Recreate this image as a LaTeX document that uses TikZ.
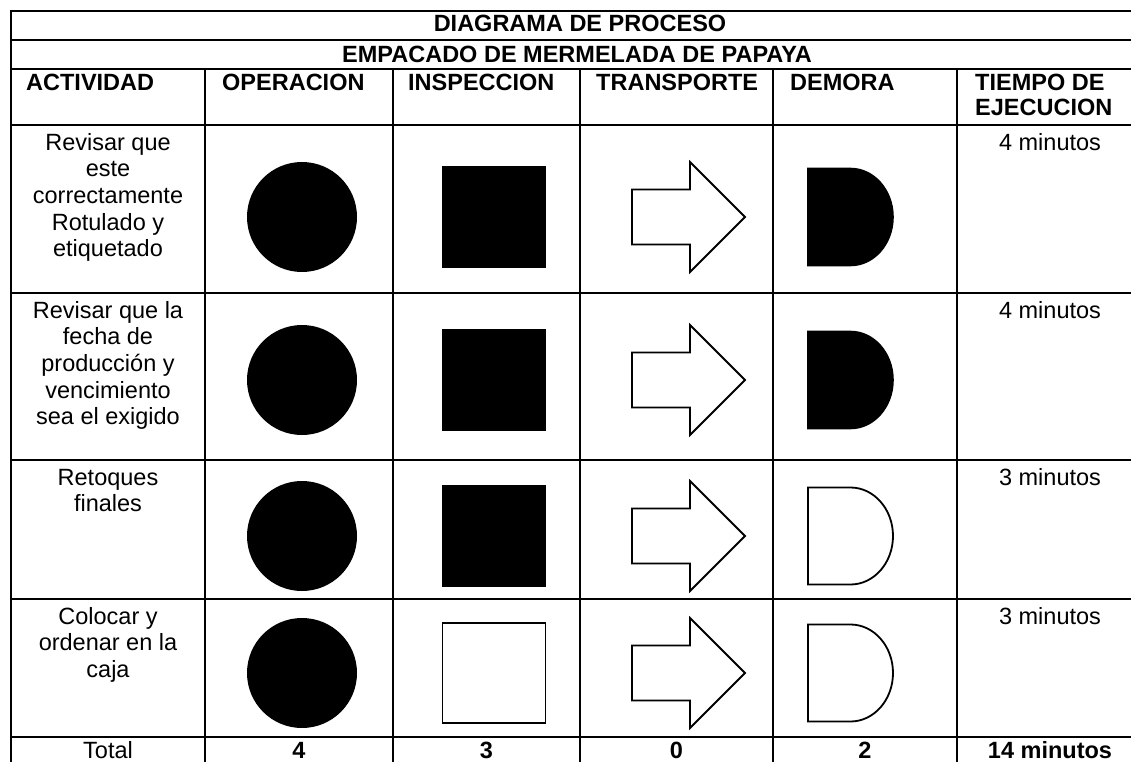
\documentclass[tikz,border=0pt]{standalone}
\usepackage{fontspec}
\setmainfont{Liberation Sans}
\newcommand\cellfont{\fontsize{23.5}{26.7}\selectfont}
\newcommand\headfont{\fontsize{23.5}{25}\selectfont\bfseries}
\begin{document}
\begin{tikzpicture}[x=1pt,y=-1pt,
  grid/.style={line width=2.3pt, line cap=rect},
  full/.style={fill=black, draw=black, line width=1.6pt},
  hollow/.style={fill=white, draw=black, line width=1.8pt},
  title/.style={anchor=base, inner sep=0pt, font=\headfont},
  head/.style={anchor=north west, inner sep=0pt, align=left, font=\headfont},
  cell/.style={anchor=north, inner sep=0pt, align=center, font=\cellfont},
  one/.style={anchor=base, inner sep=0pt, font=\cellfont},
  tot/.style={anchor=base, inner sep=0pt, font=\headfont}]
\useasboundingbox (0,0) rectangle (1131,762);
\clip (0,0) rectangle (1131,762);
\fill[white] (0,0) rectangle (1131,762);
% grid
\foreach \yy in {11,40,69,125,293,460,599,737,775}
  \draw[grid] (11,\yy) -- (1143,\yy);
\foreach \xx in {11,1143}
  \draw[grid] (\xx,11) -- (\xx,775);
\foreach \xx in {205,393,580,773,957}
  \draw[grid] (\xx,69) -- (\xx,775);
% titles
\node[title] (t1) at (580,32) {DIAGRAMA DE PROCESO};
\node[title] (t2) at (577,63) {EMPACADO DE MERMELADA DE PAPAYA};
% header
\node[head] (h1) at (26,72.5) {\strut ACTIVIDAD};
\node[head] (h2) at (222,72.5) {\strut OPERACION};
\node[head] (h3) at (408,72.5) {\strut INSPECCION};
\node[head] (h4) at (596,72.5) {\strut TRANSPORTE};
\node[head] (h5) at (790,72.5) {\strut DEMORA};
\node[head] (h6) at (975,72.5) {\strut TIEMPO DE\\EJECUCION};
% activities
\node[cell] (a1) at (108,131.3) {\strut Revisar que\\este\\correctamente\\Rotulado y\\etiquetado};
\node[cell] (a2) at (108,299.3) {\strut Revisar que la\\fecha de\\producción y\\vencimiento\\sea el exigido};
\node[cell] (a3) at (108,466.3) {\strut Retoques\\finales};
\node[cell] (a4) at (108,605.3) {\strut Colocar y\\ordenar en la\\caja};
% times
\node[one] (m1) at (1050,150) {4 minutos};
\node[one] (m2) at (1050,318) {4 minutos};
\node[one] (m3) at (1050,485) {3 minutos};
\node[one] (m4) at (1050,624) {3 minutos};
% totals
\node[one] (s1) at (108,758) {Total};
\node[tot] (s2) at (299,758) {4};
\node[tot] (s3) at (486.5,758) {3};
\node[tot] (s4) at (676.5,758) {0};
\node[tot] (s5) at (865,758) {2};
\node[tot] (s6) at (1050,758) {14 minutos};
% shapes
\foreach \c/\sq/\dl in {217/full/full,380/full/full,536/full/hollow,673/hollow/hollow}{
  \fill (302,\c) circle[radius=55pt];
  \path[\sq] (442.5,{\c-50}) rectangle (545.5,{\c+50});
  \path[hollow] (632,{\c-27.5}) -- (690,{\c-27.5}) -- (690,{\c-55}) -- (745,\c)
     -- (690,{\c+55}) -- (690,{\c+27.5}) -- (632,{\c+27.5}) -- cycle;
  \path[\dl] (808,{\c-48.5}) -- (850.5,{\c-48.5})
     arc[start angle=90, end angle=-90, x radius=42.5pt, y radius=48.5pt]
     -- (808,{\c+48.5}) -- cycle;
}
\end{tikzpicture}
\end{document}
